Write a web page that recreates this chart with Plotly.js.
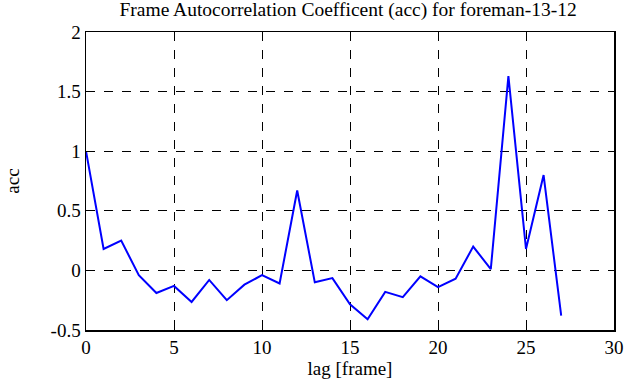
<!DOCTYPE html>
<html>
<head>
<meta charset="utf-8">
<script src="https://cdn.plot.ly/plotly-3.0.1.min.js"></script>
<style>html,body{margin:0;padding:0;background:#fff;}#chart{width:641px;height:387px;}</style>
</head>
<body>
<div id="chart"></div>
<script>
const lags = [0,1,2,3,4,5,6,7,8,9,10,11,12,13,14,15,16,17,18,19,20,21,22,23,24,25,26,27];
const acc = [1.0,0.18,0.25,-0.04,-0.19,-0.13,-0.265,-0.08,-0.25,-0.12,-0.04,-0.11,0.67,-0.10,-0.065,-0.285,-0.41,-0.18,-0.225,-0.05,-0.14,-0.07,0.2,0.01,1.63,0.18,0.80,-0.38];
const xTicks = [0,5,10,15,20,25,30];
const yTicks = [-0.5,0,0.5,1,1.5,2];
const yTickText = ['-0.5','0','0.5','1','1.5','2'];

const font = {family: '"Liberation Serif", "DejaVu Serif", serif', color: '#000', size: 19};
const titleFont = Object.assign({}, font, {size: 19.5});
const axisCommon = {
  showline: true, linecolor: '#000', linewidth: 1.5, mirror: 'ticks',
  ticks: 'inside', ticklen: 6, tickcolor: '#000', tickwidth: 1,
  showgrid: true, gridcolor: '#000', gridwidth: 1, griddash: 'dash',
  zeroline: false, tickfont: font
};
Plotly.newPlot('chart', [{
  x: lags, y: acc, type: 'scatter', mode: 'lines',
  line: {color: '#0000ff', width: 2}
}], {
  width: 641, height: 387,
  margin: {l: 86, r: 27, t: 32, b: 57},
  paper_bgcolor: '#fff', plot_bgcolor: '#fff',
  showlegend: false,
  font: font,
  title: {text: 'Frame Autocorrelation Coefficent (acc) for foreman-13-12', font: titleFont, x: 0.543, xanchor: 'center', y: 0.994, yanchor: 'top'},
  xaxis: Object.assign({}, axisCommon, {range: [0, 30], tickvals: xTicks, ticktext: xTicks.map(String),
    title: {text: 'lag [frame]', font: font, standoff: 3}}),
  yaxis: Object.assign({}, axisCommon, {range: [-0.5, 2], tickvals: yTicks, ticktext: yTickText,
    title: {text: 'acc', font: font, standoff: 26}})
}, {displayModeBar: false, staticPlot: true});
</script>
</body>
</html>
